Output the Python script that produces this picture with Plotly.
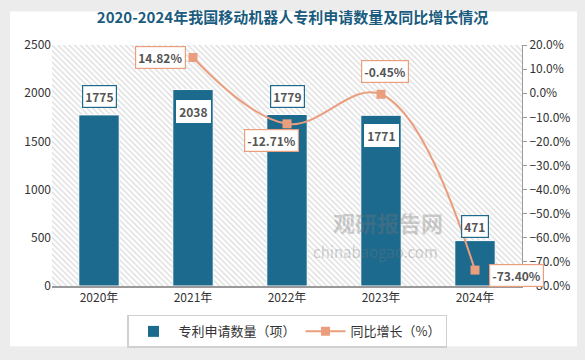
import plotly.graph_objects as go

years = ["2020年", "2021年", "2022年", "2023年", "2024年"]
patents = [1775, 2038, 1779, 1771, 471]
growth = [None, 14.82, -12.71, -0.45, -73.40]
growth_labels = ["", "14.82%", "-12.71%", "-0.45%", "-73.40%"]

Y1_MAX = 2500
BAR_COLOR = "#1c6a8e"
LINE_COLOR = "#ea9e7e"
FONT = "Noto Sans CJK SC"

fig = go.Figure()

# hatched plot background
fig.add_trace(go.Bar(
    x=years, y=[Y1_MAX] * len(years), width=1,
    marker=dict(color="rgba(255,255,255,0)", line=dict(width=0),
                pattern=dict(shape="\\", fgcolor="#bcbcbc", bgcolor="white", size=4, solidity=0.35)),
    showlegend=False, hoverinfo="skip"))

fig.add_trace(go.Bar(
    x=years, y=patents, name="专利申请数量（项）", width=0.43,
    marker=dict(color=BAR_COLOR, line=dict(color="white", width=1))))

fig.add_trace(go.Scatter(
    x=years, y=growth, name="同比增长（%）", yaxis="y2", mode="lines+markers",
    line=dict(color=LINE_COLOR, width=2, shape="spline", smoothing=1.1),
    marker=dict(symbol="square", size=9, color=LINE_COLOR),
    connectgaps=False))

bar_shift = {0: 18, 1: -22, 2: 18, 3: -20, 4: 14}
bar_border = {0: True, 1: False, 2: True, 3: False, 4: True}
for i, v in enumerate(patents):
    fig.add_annotation(
        x=years[i], y=v, xref="x", yref="y", text=f"<b>{v}</b>", showarrow=False,
        yshift=bar_shift[i], font=dict(size=12, color="#555555", family=FONT),
        bgcolor="white", bordercolor=BAR_COLOR if bar_border[i] else "white",
        borderwidth=1.2, borderpad=2)

line_shift = {1: (-33, 0), 2: (-16, -17), 3: (4, 23), 4: (41, -5)}
for i, (dx, dy) in line_shift.items():
    fig.add_annotation(
        x=years[i], y=growth[i], xref="x", yref="y2", text=f"<b>{growth_labels[i]}</b>",
        showarrow=False, xshift=dx, yshift=dy,
        font=dict(size=12, color="#555555", family=FONT),
        bgcolor="white", bordercolor=LINE_COLOR, borderwidth=1.2, borderpad=2)

# watermark
fig.add_annotation(x=0.836, y=0.19, xref="paper", yref="paper", text="<b>观研报告网</b>",
                   showarrow=False, font=dict(size=22, color="rgba(120,120,120,0.35)", family=FONT))
fig.add_annotation(x=0.826, y=0.09, xref="paper", yref="paper", text="chinabaogao.com",
                   showarrow=False, font=dict(size=15, color="rgba(120,120,120,0.35)", family=FONT))

# white card
fig.add_shape(type="rect", xref="paper", yref="paper",
              x0=(10 - 52) / 470, x1=(577 - 52) / 470, y0=(289 - 350) / 244, y1=(289 - 11) / 244,
              fillcolor="white", line=dict(width=0), layer="below")

fig.update_layout(
    width=585, height=360,
    margin=dict(l=52, r=63, t=45, b=71),
    paper_bgcolor="#ececec", plot_bgcolor="white",
    barmode="overlay",
    title=dict(text="<b>2020-2024年我国移动机器人专利申请数量及同比增长情况</b>",
               x=0.5, xanchor="center", y=0.95, yanchor="middle",
               font=dict(size=15, color="#1b5c7e", family=FONT)),
    font=dict(family=FONT, color="#333333", size=12),
    xaxis=dict(showgrid=False, showline=True, linecolor="#9a9a9a", linewidth=1.5,
               ticks="", tickfont=dict(size=12), range=[-0.5, 4.5], automargin=False),
    yaxis=dict(range=[0, Y1_MAX], dtick=500, showgrid=False, zeroline=False,
               showline=False, tickfont=dict(size=12), ticks="", automargin=False),
    yaxis2=dict(range=[-80, 20], dtick=10, overlaying="y", side="right",
                showgrid=False, zeroline=False, showline=True, linecolor="#9a9a9a",
                ticks="outside", ticklen=4, tickcolor="#9a9a9a", automargin=False,
                ticksuffix="%", tickformat=".1f", tickfont=dict(size=12)),
    legend=dict(orientation="h", x=0.5, xanchor="center", y=-0.12, yanchor="top",
                bordercolor="#d0d0d0", borderwidth=1.5, bgcolor="white",
                font=dict(size=13, color="#333333"), itemwidth=40),
    showlegend=True,
)

fig.write_html("out.html", config={"displayModeBar": False},
               post_script="document.body.style.margin='0';document.body.style.overflow='hidden';")
